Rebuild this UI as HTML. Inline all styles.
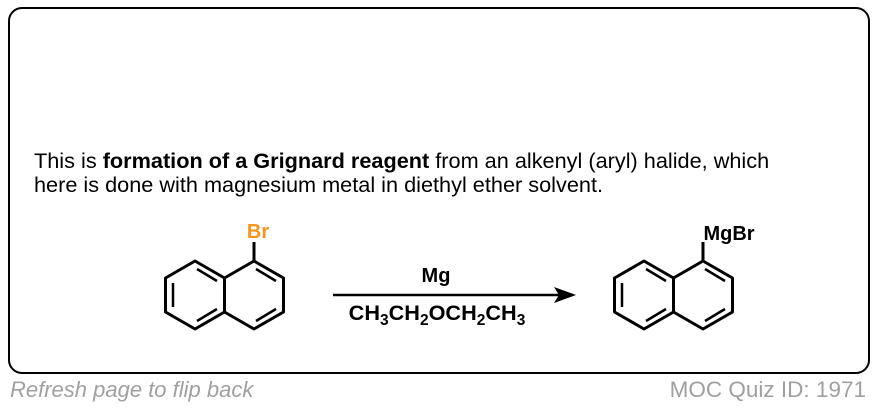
<!DOCTYPE html><html><head><style>
body{margin:0;width:878px;height:408px;background:#fff;font-family:"Liberation Sans",sans-serif;position:relative;overflow:hidden}
.box{position:absolute;left:8px;top:7px;width:858px;height:363px;border:2px solid #000;border-radius:14px}
.t{position:absolute;left:34px;top:149px;font-size:21.7px;line-height:24px;color:#000;white-space:nowrap}
.f{position:absolute;top:377px;color:#a0a0a0}
</style></head><body>
<div class="box"></div>
<div class="t">This is <b>formation of a Grignard reagent</b> from an alkenyl (aryl) halide, which<br>here is done with magnesium metal in diethyl ether solvent.</div>
<svg width="878" height="408" style="position:absolute;left:0;top:0">
<g id="n" stroke="#000" stroke-width="3" fill="none" stroke-linejoin="round">
<polygon points="195,261 224.5,278 224.5,312 195,329 165.5,312 165.5,278"/>
<polygon points="254,261 283.5,278 283.5,312 254,329 224.5,312 224.5,278"/>
<line x1="173" y1="283" x2="173" y2="307" stroke-width="2.5"/>
<line x1="197" y1="269" x2="217" y2="281" stroke-width="2.5"/>
<line x1="197" y1="321" x2="217" y2="309" stroke-width="2.5"/>
<line x1="256" y1="269" x2="276" y2="281" stroke-width="2.5"/>
<line x1="256" y1="321" x2="276" y2="309" stroke-width="2.5"/>
<line x1="254" y1="261" x2="254" y2="242"/>
</g>
<use href="#n" x="449"/>
<text x="258" y="238" font-size="20" font-weight="bold" fill="#f7941d" text-anchor="middle" font-family="Liberation Sans">Br</text>
<text x="729" y="240" font-size="20" font-weight="bold" text-anchor="middle" font-family="Liberation Sans">MgBr</text>
<line x1="333" y1="295" x2="560" y2="295" stroke="#000" stroke-width="2.5"/>
<polygon points="576,295 554,287 559,295 554,303" fill="#000"/>
<text x="436" y="282" font-size="20" font-weight="bold" text-anchor="middle" font-family="Liberation Sans">Mg</text>
<text x="437" y="320" font-size="21.7" font-weight="bold" text-anchor="middle" font-family="Liberation Sans">CH<tspan font-size="15.5" dy="5">3</tspan><tspan dy="-5">CH</tspan><tspan font-size="15.5" dy="5">2</tspan><tspan dy="-5">OCH</tspan><tspan font-size="15.5" dy="5">2</tspan><tspan dy="-5">CH</tspan><tspan font-size="15.5" dy="5">3</tspan></text>
</svg>
<div class="f" style="left:10px;font-style:italic;font-size:22px">Refresh page to flip back</div>
<div class="f" style="right:12px;font-size:22.5px">MOC Quiz ID: 1971</div>
</body></html>
